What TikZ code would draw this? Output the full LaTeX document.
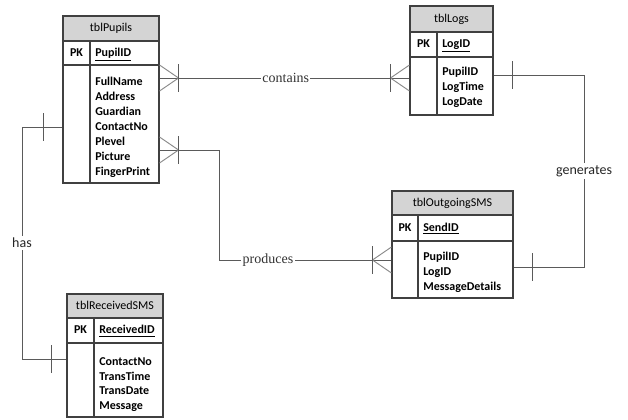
\documentclass[tikz,border=0pt]{standalone}
\usepackage{fontspec}
\setmainfont{Carlito}
\newfontfamily\tnrfont{Liberation Serif}
\usetikzlibrary{fit,calc}
\definecolor{hdrgray}{HTML}{D4D4D4}
\definecolor{bordergray}{HTML}{404040}
\definecolor{conngray}{HTML}{5A5A5A}
\definecolor{forkgray}{HTML}{8A8A8A}
\tikzset{
  tblborder/.style={draw=bordergray, line width=0.8pt, inner sep=0pt},
  tblline/.style={draw=bordergray, line width=0.8pt},
  hdrtext/.style={inner sep=0pt, font=\fontsize{9}{11}\selectfont, text height=7pt, text depth=2pt},
  pktext/.style={inner sep=0pt, font=\fontsize{9}{11}\selectfont\bfseries, text height=7pt, text depth=2pt},
  fld/.style={anchor=west, inner sep=0pt, font=\fontsize{9}{11}\selectfont\bfseries, text height=7pt, text depth=2pt},
  conn/.style={draw=conngray, line width=0.75pt},
  forkline/.style={draw=forkgray, line width=0.7pt},
  serlabel/.style={fill=white, inner sep=1pt, font=\fontsize{10.5}{12}\selectfont\tnrfont, text=black!80},
  sanlabel/.style={fill=white, inner sep=1.5pt, font=\fontsize{10.5}{12}\selectfont, text=black!85},
  crow/.pic={
    \draw[forkline] (0,-13) -- (19,0) -- (0,13);
    \draw[conn] (19,-14) -- (19,14);
  },
  onebar/.pic={
    \draw[conn] (19,-14) -- (19,14);
  }
}
\newcommand\mktable[9]{%
  \fill[hdrgray] (#2,#3) rectangle (#4,#6);
  \node[fit={(#2,#3) (#4,#5)}, tblborder] (#1) {};
  \draw[tblline] (#2,#6) -- (#4,#6) (#2,#7) -- (#4,#7) (#8,#6) -- (#8,#5);
  \node[hdrtext] (#1-title) at ({(#2+#4)/2},{(#3+#6)/2}) {#9};
  \node[pktext] (#1-pk) at ({(#2+#8)/2},{(#6+#7)/2}) {PK};
}
\begin{document}
\begin{tikzpicture}[x=0.75pt, y=-0.75pt]
\useasboundingbox (0,0) rectangle (628,419);

% tables
\mktable{pupils}{63}{16}{159}{183}{41}{65}{90}{tblPupils}
\node[fld] (pupils-pkf) at (95,53) {\underline{PupilID}};
\foreach \t [count=\i] in {FullName,Address,Guardian,ContactNo,Plevel,Picture,FingerPrint}
  \node[fld] (pupils-f\i) at (95,{82+15*(\i-1)}) {\t};

\mktable{logs}{410}{6}{493}{115}{32}{57}{437}{tblLogs}
\node[fld] (logs-pkf) at (442,44.5) {\underline{LogID}};
\foreach \t [count=\i] in {PupilID,LogTime,LogDate}
  \node[fld] (logs-f\i) at (442,{72+15*(\i-1)}) {\t};

\mktable{outgoing}{392}{191}{513}{298}{215}{241}{418}{tblOutgoingSMS}
\node[fld] (outgoing-pkf) at (423,228) {\underline{SendID}};
\foreach \t [count=\i] in {PupilID,LogID,MessageDetails}
  \node[fld] (outgoing-f\i) at (423,{257+15*(\i-1)}) {\t};

\mktable{received}{67}{294}{163}{417}{318}{343}{94}{tblReceivedSMS}
\node[fld] (received-pkf) at (99,330.5) {\underline{ReceivedID}};
\foreach \t [count=\i] in {ContactNo,TransTime,TransDate,Message}
  \node[fld] (received-f\i) at (99,{362+14.8*(\i-1)}) {\t};

% contains
\draw[conn] (pupils.east |- 0,78) -- (logs.west |- 0,78)
  node[serlabel, pos=0.505] (lcontains) {contains};
\pic at (pupils.east |- 0,78) {crow};
\pic[xscale=-1] at (logs.west |- 0,78) {crow};

% produces
\coordinate (p1) at (219,150);
\coordinate (p2) at (219,260);
\draw[conn] (pupils.east |- p1) -- (p1) -- (p2) -- (outgoing.west |- p2);
\node[serlabel] (lproduces) at (268,260) {produces};
\pic at (pupils.east |- p1) {crow};
\pic[xscale=-1] at (outgoing.west |- p2) {crow};

% generates
\coordinate (g1) at (584,75);
\coordinate (g2) at (584,267);
\draw[conn] (logs.east |- g1) -- (g1) -- (g2) -- (outgoing.east |- g2);
\node[sanlabel] (lgenerates) at (584,171) {generates};
\pic at (logs.east |- g1) {onebar};
\pic at (outgoing.east |- g2) {onebar};

% has
\coordinate (h1) at (22,127);
\coordinate (h2) at (22,359);
\draw[conn] (pupils.west |- h1) -- (h1) -- (h2) -- (received.west |- h2);
\node[sanlabel] (lhas) at (22,243) {has};
\pic[xscale=-1] at (pupils.west |- h1) {onebar};
\pic[xscale=-1] at ($(received.west |- h2)+(4,0)$) {onebar};
\end{tikzpicture}
\end{document}
